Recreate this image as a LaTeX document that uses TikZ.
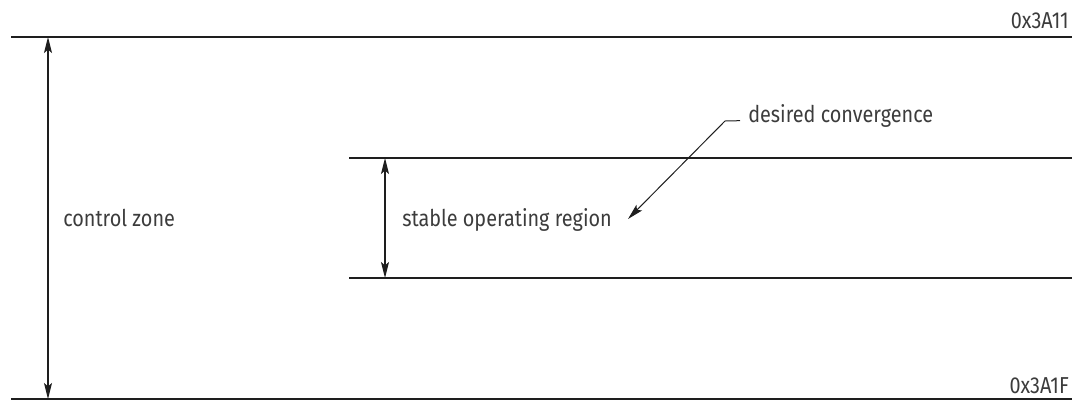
\documentclass[tikz,border=0pt]{standalone}
\usepackage{fontspec}
\setmainfont[FakeStretch=0.86]{Fira Sans}
\usepackage{xcolor}
\usetikzlibrary{arrows.meta,calc}
\definecolor{ink}{HTML}{1E1E1E}
\definecolor{txt}{HTML}{3C3C3C}
\tikzset{
    bound/.style={draw=ink, line width=2.2pt, line cap=butt},
    dimline/.style={draw=ink, line width=0.95pt},
    lbl/.style={text=txt, inner sep=0pt, font=\fontsize{17.3}{20}\selectfont},
    tip/.tip={Stealth[length=12pt,width=6pt,inset=2.5pt]}}

\begin{document}
\begin{tikzpicture}[x=0.75pt,y=-0.75pt]
\useasboundingbox (0,0) rectangle (1085,401);
% outer band
\coordinate (TL) at (11,37);
\coordinate (TR) at (1072,37);
\coordinate (BL) at (11,399);
\coordinate (BR) at (1072,399);
\coordinate (CT) at (48,37);
\coordinate (CB) at (48,399);
% inner band
\coordinate (IL1) at (349,158);
\coordinate (IR1) at (1072,158);
\coordinate (IL2) at (349,278);
\coordinate (IR2) at (1072,278);
\coordinate (ST) at (385,158);
\coordinate (SB) at (385,278);
% leader
\coordinate (K) at (725,121);
\coordinate (T) at (628,219);

\draw [bound] (TL) -- (TR);
\draw [bound] (BL) -- (BR);
\draw [bound] (IL1) -- (IR1);
\draw [bound] (IL2) -- (IR2);

\draw [dimline, {tip}-{tip}] (CT) -- (CB);
\draw [dimline, {tip}-{tip}] (ST) -- (SB);

\node[lbl, anchor=base east] (hi) at (1069,28) {0x3A11};
\node[lbl, anchor=base east] (lo) at (1069,393) {0x3A1F};
\node[lbl, anchor=base west] (zone) at (63,226) {control zone};
\node[lbl, anchor=base west] (stable) at (402,226) {stable operating region};
\node[lbl, anchor=base west] (conv) at (748,122) {desired convergence};

\draw [dimline, line width=0.75pt, -{tip}] ([xshift=-6pt,yshift=1pt]conv.base west) -- (K) -- (T);
\end{tikzpicture}
\end{document}
